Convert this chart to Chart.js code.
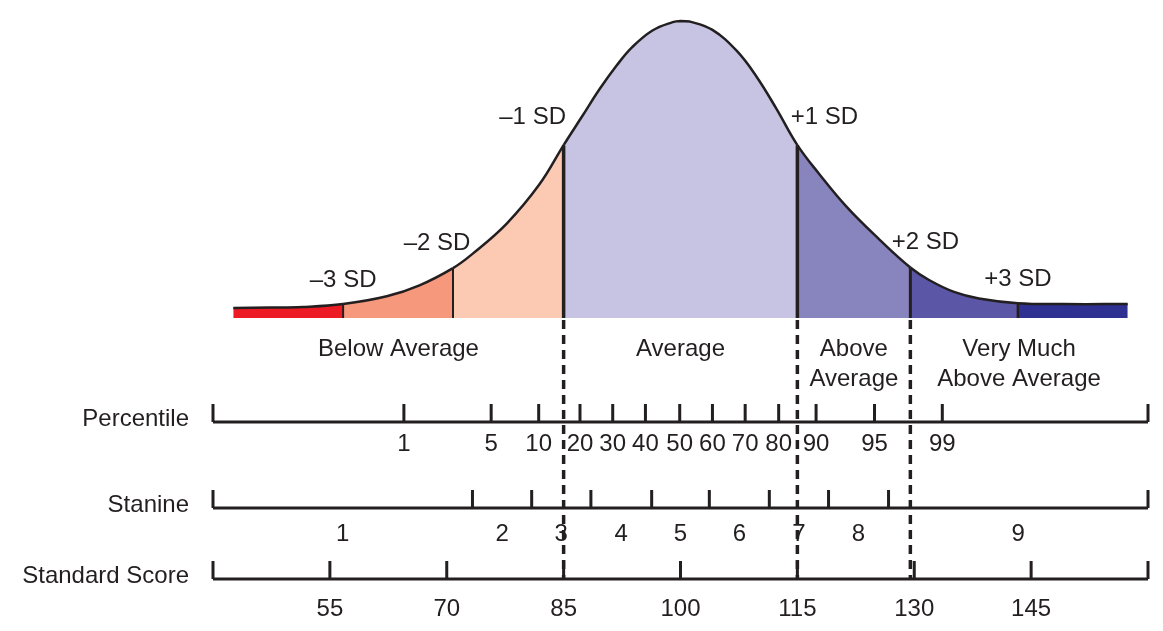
<!DOCTYPE html>
<html>
<head>
<meta charset="utf-8">
<script src="https://cdn.jsdelivr.net/npm/chart.js@4/dist/chart.umd.min.js"></script>
<style>
  body { margin: 0; background: #fff; }
  canvas { display: block; }
</style>
</head>
<body>
<canvas id="bell" width="1163" height="631"></canvas>
<script>
// bell curve: standard score -> relative height (peak = 100)
const curveX = [42.6, 47.3, 51.5, 56.7, 62.3, 66.5, 70.8, 73.3, 77.7, 81.9, 85, 87.4, 89.6, 91.8, 93.8, 96.4, 99.0, 100,
                101.2, 104.1, 107.2, 109.7, 112.3, 115, 117.8, 121.3, 125.5, 129.5, 131.9, 135.1, 138.3, 143.3, 149.0, 157.4];
const curveY = [3.4, 3.5, 3.7, 4.7, 7.3, 11.0, 16.8, 21.6, 31.8, 45.0, 58.2, 68.0, 77.0, 85.0, 91.2, 96.8, 99.6, 100,
                99.8, 97.0, 90.0, 81.5, 70.5, 58.2, 48.5, 37.5, 26.5, 17.0, 12.8, 8.8, 6.6, 5.0, 4.7, 4.7];

// where the coloured bands change, -3 SD .. +3 SD
const sdBounds = [56.7, 70.8, 85, 115, 129.5, 143.3];
const sdLabels = ["–3 SD", "–2 SD", "–1 SD", "+1 SD", "+2 SD", "+3 SD"];
const bandColors = ["#ed1c24", "#f5987b", "#fcc9b3", "#c6c4e2", "#8884bd", "#5b56a5", "#2e3192"];

const groupLabels = [["Below Average"], ["Average"], ["Above", "Average"], ["Very Much", "Above Average"]];

const percentiles = [1, 5, 10, 20, 30, 40, 50, 60, 70, 80, 90, 95, 99];
const percentileAt = [64.5, 75.7, 81.8, 87.1, 91.3, 95.5, 99.9, 104.1, 108.3, 112.6, 117.4, 124.9, 133.6];

const stanines = [1, 2, 3, 4, 5, 6, 7, 8, 9];
const stanineCuts = [73.3, 80.9, 88.5, 96.3, 103.7, 111.4, 119.0, 126.7];

const standardScores = [55, 70, 85, 100, 115, 130, 145];

const INK = "#231f20";
const FONT = '24px "Liberation Sans", Arial, sans-serif';

const points = curveX.map((x, i) => ({ x: x, y: curveY[i] }));
const edges = [curveX[0], ...sdBounds, curveX[curveX.length - 1]];

function bandOf(x) {
    for (let i = 0; i < bandColors.length; i++) {
        if (x >= edges[i] && x <= edges[i + 1]) return i;
    }
    return bandColors.length - 1;
}

const curve = {
    data: points,
    borderColor: INK,
    borderWidth: 2.5,
    backgroundColor: bandColors[0],
    fill: "origin",
    tension: 0.4,
    pointRadius: 0,
    clip: false,
    segment: {
        backgroundColor: c => bandColors[bandOf((c.p0.parsed.x + c.p1.parsed.x) / 2)]
    }
};

// everything that is not the curve: band edges, labels, the three rulers
const extras = {
    id: "extras",
    afterDatasetsDraw(chart) {
        const ctx = chart.ctx;
        const xs = chart.scales.x;
        const ys = chart.scales.y;
        const base = ys.getPixelForValue(0);
        const px = v => xs.getPixelForValue(v);

        ctx.save();
        ctx.strokeStyle = INK;
        ctx.fillStyle = INK;
        ctx.font = FONT;
        ctx.textAlign = "center";
        ctx.textBaseline = "middle";

        // band edges + SD labels
        const widths = [2, 2, 3.5, 3.5, 3, 2.5];
        const dx = [0, -16, -31, 27, 15, 0];
        const dy = [-24, -25, -28, -28, -25, -24];
        sdBounds.forEach((b, i) => {
            const top = ys.getPixelForValue(curveY[curveX.indexOf(b)]);
            ctx.lineWidth = widths[i];
            ctx.beginPath();
            ctx.moveTo(px(b), top);
            ctx.lineTo(px(b), base);
            ctx.stroke();
            ctx.fillText(sdLabels[i], px(b) + dx[i], top + dy[i]);
        });

        // dashed guides under -1, +1 and +2 SD
        ctx.lineWidth = 3.5;
        ctx.setLineDash([9, 6]);
        [sdBounds[2], sdBounds[3], sdBounds[4]].forEach(b => {
            ctx.beginPath();
            ctx.moveTo(px(b), base + 2);
            ctx.lineTo(px(b), 579);
            ctx.stroke();
        });
        ctx.setLineDash([]);

        // group names, centred between the band edges
        const groupEdges = [curveX[0], sdBounds[2], sdBounds[3], sdBounds[4], curveX[curveX.length - 1]];
        groupLabels.forEach((lines, i) => {
            const cx = px((groupEdges[i] + groupEdges[i + 1]) / 2);
            lines.forEach((t, k) => ctx.fillText(t, cx, 349 + k * 30));
        });

        function ruler(y, ticks, title) {
            ctx.lineWidth = 3;
            ctx.beginPath();
            ctx.moveTo(xs.left, y);
            ctx.lineTo(xs.right, y);
            [xs.min, ...ticks, xs.max].forEach(v => {
                ctx.moveTo(px(v), y);
                ctx.lineTo(px(v), y - 18);
            });
            ctx.stroke();
            ctx.textAlign = "right";
            ctx.fillText(title, xs.left - 24, y - 3);
            ctx.textAlign = "center";
        }

        ruler(422, percentileAt, "Percentile");
        percentiles.forEach((p, i) => ctx.fillText(String(p), px(percentileAt[i]), 444));

        ruler(508, stanineCuts, "Stanine");
        const sEdges = [xs.min, ...stanineCuts, xs.max];
        stanines.forEach((s, i) => ctx.fillText(String(s), px((sEdges[i] + sEdges[i + 1]) / 2), 534));

        ruler(579, standardScores, "Standard Score");
        standardScores.forEach(s => ctx.fillText(String(s), px(s), 609));

        ctx.restore();
    }
};

new Chart(document.getElementById("bell"), {
    type: "line",
    data: { datasets: [curve] },
    options: {
        responsive: false,
        animation: false,
        layout: { padding: { left: 213, right: 15, top: 21, bottom: 313 } },
        scales: {
            x: { type: "linear", min: 40, max: 160, display: false },
            y: { min: 0, max: 100, display: false }
        },
        plugins: { legend: { display: false }, tooltip: { enabled: false } }
    },
    plugins: [extras]
});
</script>
</body>
</html>
